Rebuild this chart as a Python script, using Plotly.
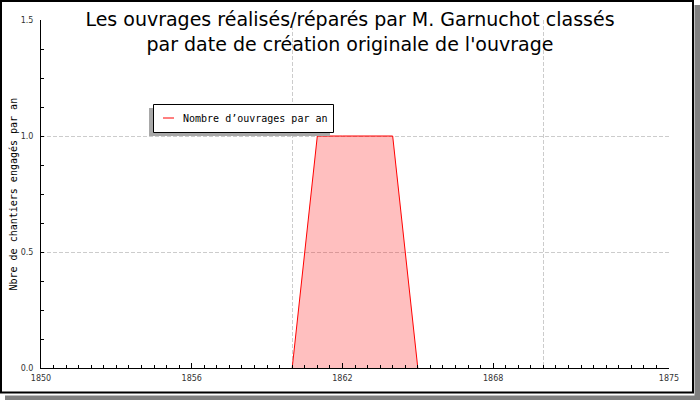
import plotly.graph_objects as go

# ---- data ----
years = [1860, 1861, 1862, 1863, 1864, 1865]
counts = [0, 1, 1, 1, 1, 0]
series_name = "Nombre d\u2019ouvrages par an"
x_tick_labels = [1850, 1856, 1862, 1868, 1875]
y_tick_labels = [0.0, 0.5, 1.0, 1.5]
title_text = ("Les ouvrages réalisés/réparés par M. Garnuchot classés<br>"
              "par date de création originale de l'ouvrage")
y_title = "Nbre de chantiers engagés par an"

W, H = 700, 400
L, R, T, B = 41, 669, 20, 368  # plot area in pixels


def px(x):
    return (x - L) / (R - L)


def py(y):
    return (B - y) / (B - T)


fig = go.Figure()
fig.add_trace(go.Scatter(
    x=years, y=counts, mode="lines", fill="tozeroy",
    fillcolor="rgba(255,0,0,0.25)", line=dict(width=0),
    showlegend=False, hoverinfo="skip",
))
fig.add_trace(go.Scatter(
    x=years, y=counts, mode="lines", name=series_name,
    line=dict(color="red", width=1), xaxis="x2", showlegend=False,
))

tick_font = dict(family="DejaVu Sans", size=8, color="#333333")
grid = dict(gridcolor="#cccccc", griddash="4px,2px", gridwidth=1)
title_font = dict(family="DejaVu Sans", size=19, color="black")

fig.update_layout(
    width=W, height=H,
    margin=dict(l=L, r=W - R, t=T, b=H - B, autoexpand=False),
    paper_bgcolor="white", plot_bgcolor="white",
    showlegend=False,
    title=dict(text=title_text, x=350 / W, xanchor="center", xref="container",
               y=1 - 26 / H, yanchor="top", yref="container",
               font=title_font),
    xaxis=dict(range=[1850, 1875], tickvals=x_tick_labels,
               ticktext=[str(v) for v in x_tick_labels],
               ticks="inside", ticklen=5, tickcolor="black",
               showline=True, linecolor="black", linewidth=1,
               showgrid=False, zeroline=False, tickfont=tick_font,
               minor=dict(dtick=0.5, tick0=1850, ticks="inside", ticklen=3,
                          tickcolor="black", showgrid=False),
               ticklabelstandoff=2),
    xaxis2=dict(range=[1850, 1875], overlaying="x", dtick=10, tick0=1850,
                showgrid=True, showticklabels=False, ticks="",
                showline=False, zeroline=False, **grid),
    yaxis=dict(range=[0, 1.5], tickvals=y_tick_labels,
               ticktext=["%.1f" % v for v in y_tick_labels],
               ticks="inside", ticklen=3, tickcolor="black",
               showline=True, linecolor="black", linewidth=1,
               showgrid=True, zeroline=False, tickfont=tick_font,
               minor=dict(dtick=0.125, tick0=0, ticks="inside", ticklen=3,
                          tickcolor="black", showgrid=False),
               ticklabelstandoff=5, **grid),
)

shapes = [
    # outer frame shadow
    dict(type="rect", xref="paper", yref="paper", x0=px(694.5), x1=px(700),
         y0=py(5), y1=py(400), fillcolor="#808080", line=dict(width=0)),
    dict(type="rect", xref="paper", yref="paper", x0=px(5), x1=px(700),
         y0=py(395.5), y1=py(400), fillcolor="#808080", line=dict(width=0)),
    # outer frame border
    dict(type="rect", xref="paper", yref="paper", x0=px(1), x1=px(693),
         y0=py(1), y1=py(392.5), line=dict(color="black", width=2)),
    # legend shadow + box
    dict(type="rect", xref="paper", yref="paper", x0=px(149), x1=px(330),
         y0=py(108), y1=py(136), fillcolor="#a8a8a8", line=dict(width=0)),
    dict(type="rect", xref="paper", yref="paper", x0=px(153.5), x1=px(333.5),
         y0=py(104.5), y1=py(132.5), fillcolor="white",
         line=dict(color="black", width=1)),
    dict(type="line", xref="paper", yref="paper", x0=px(163), x1=px(174),
         y0=py(118), y1=py(118), line=dict(color="red", width=1)),
]
fig.update_layout(shapes=shapes)

fig.add_annotation(text=series_name, xref="paper", yref="paper",
                   x=px(181), y=py(118.5), xanchor="left", yanchor="middle",
                   showarrow=False,
                   font=dict(family="DejaVu Sans Mono", size=10, color="black"))
fig.add_annotation(text=y_title, xref="paper", yref="paper",
                   x=px(12.5), y=py(194), xanchor="center", yanchor="middle",
                   textangle=-90, showarrow=False,
                   font=dict(family="DejaVu Sans Mono", size=10, color="black"))

fig.write_html("out.html", config={"displayModeBar": False},
               post_script="document.body.style.margin='0';")
